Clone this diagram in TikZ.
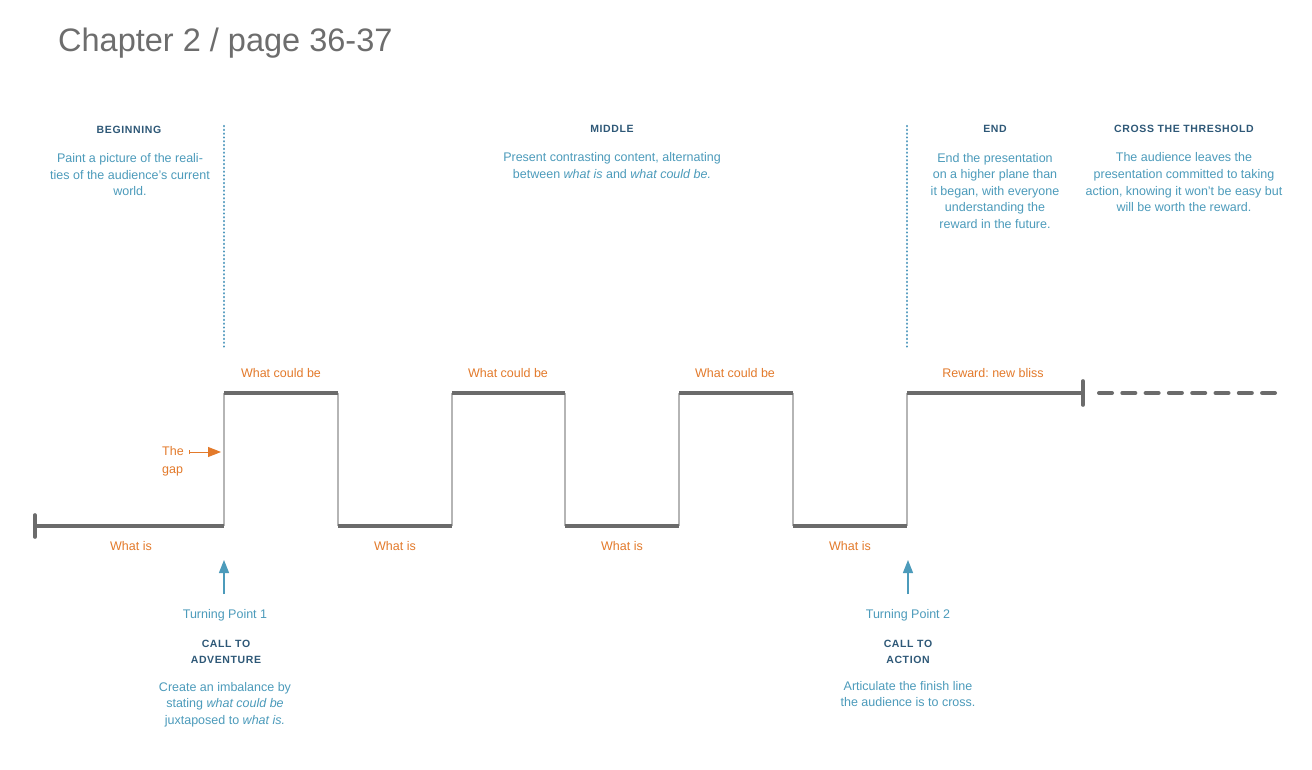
\documentclass[tikz,border=0pt]{standalone}
\usepackage{fontspec}
\setmainfont{Liberation Sans}
\usetikzlibrary{arrows.meta}
\frenchspacing
\definecolor{orng}{HTML}{E37A2B}
\definecolor{bluetxt}{HTML}{4C9BBB}
\definecolor{bluehead}{HTML}{2E5877}
\definecolor{bluedot}{HTML}{4F98BD}
\definecolor{linegray}{HTML}{6B6B6B}
\definecolor{thingray}{HTML}{B5B5B5}
\definecolor{titlegray}{HTML}{6D6D6D}
\tikzset{
  lbl/.style={inner sep=0pt, anchor=base, text=orng, font=\fontsize{12.5}{15}\selectfont},
  desc/.style={inner sep=0pt, anchor=base, align=center, text=bluetxt, font=\fontsize{12.5}{16.6}\selectfont},
  head/.style={inner sep=0pt, anchor=base, align=center, text=bluehead, font=\fontsize{10.5}{16.3}\selectfont\bfseries\addfontfeature{LetterSpace=6}},
  thick line/.style={draw=linegray, line width=4pt},
  riser/.style={draw=thingray, line width=1.3pt},
  divider/.style={draw=bluedot, line width=2.3pt, line cap=round, dash pattern=on 0.2pt off 3.6pt},
  tparrow/.style={draw=bluetxt, line width=1.3pt, -{Triangle[length=13pt,width=10pt]}},
}
\begin{document}
\begin{tikzpicture}[x=1pt,y=-1pt]
\useasboundingbox[fill=white] (0,0) rectangle (1312,770);

% title
\node[inner sep=0pt, anchor=base west, text=titlegray, font=\fontsize{32.5}{36}\selectfont] (title) at (58,52) {Chapter 2 / page 36-37};

% waveform coordinates
\coordinate (s) at (35,526);
\coordinate (a0) at (224,526); \coordinate (a1) at (224,393);
\coordinate (b1) at (338,393); \coordinate (b0) at (338,526);
\coordinate (c0) at (452,526); \coordinate (c1) at (452,393);
\coordinate (d1) at (565,393); \coordinate (d0) at (565,526);
\coordinate (e0) at (679,526); \coordinate (e1) at (679,393);
\coordinate (f1) at (793,393); \coordinate (f0) at (793,526);
\coordinate (g0) at (907,526); \coordinate (g1) at (907,393);
\coordinate (h) at (1083,393);
\coordinate (dashstart) at (1099,393);
\coordinate (dashend) at (1275,393);

% risers
\draw[riser] (a0) -- (a1);
\draw[riser] (b1) -- (b0);
\draw[riser] (c0) -- (c1);
\draw[riser] (d1) -- (d0);
\draw[riser] (e0) -- (e1);
\draw[riser] (f1) -- (f0);
\draw[riser] (g0) -- (g1);

% levels
\draw[thick line] (s) -- (a0);
\draw[thick line] (a1) -- (b1);
\draw[thick line] (b0) -- (c0);
\draw[thick line] (c1) -- (d1);
\draw[thick line] (d0) -- (e0);
\draw[thick line] (e1) -- (f1);
\draw[thick line] (f0) -- (g0);
\draw[thick line] (g1) -- (h);

% end ticks
\draw[draw=linegray, line width=3.6pt, line cap=round] ([yshift=-11pt]s) -- ([yshift=11pt]s);
\draw[draw=linegray, line width=3.6pt, line cap=round] ([yshift=-12pt]h) -- ([yshift=12pt]h);

% dashed continuation
\draw[draw=linegray, line width=4pt, line cap=round, dash pattern=on 13pt off 10.3pt] (dashstart) -- (dashend);

% dividers
\coordinate (dv1t) at (224,126); \coordinate (dv1b) at (224,348);
\coordinate (dv2t) at (907,126); \coordinate (dv2b) at (907,348);
\draw[divider] (dv1t) -- (dv1b);
\draw[divider] (dv2t) -- (dv2b);

% orange labels
\node[lbl] (wcb1) at (281,377) {What could be};
\node[lbl] (wcb2) at (508,377) {What could be};
\node[lbl] (wcb3) at (735,377) {What could be};
\node[lbl] (reward) at (993,377) {Reward: new bliss};
\node[lbl] (wi1) at (131,550) {What is};
\node[lbl] (wi2) at (395,550) {What is};
\node[lbl] (wi3) at (622,550) {What is};
\node[lbl] (wi4) at (850,550) {What is};

% the gap
\node[lbl, align=left, anchor=base west, font=\fontsize{12.5}{18}\selectfont] (gap) at (162,473) {The\\gap};
\coordinate (gapend) at (221,452);
\coordinate (gapstart) at (189,452);
\draw[draw=orng, line width=0.9pt, {Bar[width=4pt]}-{Triangle[length=13pt,width=10pt]}] (gapstart) -- (gapend);

% top headers and descriptions (base anchor = last line's baseline)
\node[head] (hbeg) at (129,134) {BEGINNING};
\node[desc] (dbeg) at (130,196) {Paint a picture of the reali-\\ties of the audience's current\\world.};
\node[head] (hmid) at (612,133) {MIDDLE};
\node[desc] (dmid) at (612,178.6) {Present contrasting content, alternating\\between \textit{what is} and \textit{what could be.}};
\node[head] (hend) at (995,133) {END};
\node[desc] (dend) at (995,228.4) {End the presentation\\on a higher plane than\\it began, with everyone\\understanding the\\reward in the future.};
\node[head] (hcross) at (1184,133) {CROSS THE THRESHOLD};
\node[desc] (dcross) at (1184,211.8) {The audience leaves the\\presentation committed to taking\\action, knowing it won't be easy but\\will be worth the reward.};

% turning points
\coordinate (tp1b) at (224,594); \coordinate (tp1t) at (224,560);
\coordinate (tp2b) at (908,594); \coordinate (tp2t) at (908,560);
\draw[tparrow] (tp1b) -- (tp1t);
\draw[tparrow] (tp2b) -- (tp2t);

\node[desc] (tp1) at (225,618) {Turning Point 1};
\node[head] (cta1) at (226,663.3) {CALL TO\\ADVENTURE};
\node[desc] (dtp1) at (225,724.2) {Create an imbalance by\\stating \textit{what could be}\\juxtaposed to \textit{what is.}};

\node[desc] (tp2) at (908,618) {Turning Point 2};
\node[head] (cta2) at (908,663.3) {CALL TO\\ACTION};
\node[desc] (dtp2) at (908,706.6) {Articulate the finish line\\the audience is to cross.};
\end{tikzpicture}
\end{document}
